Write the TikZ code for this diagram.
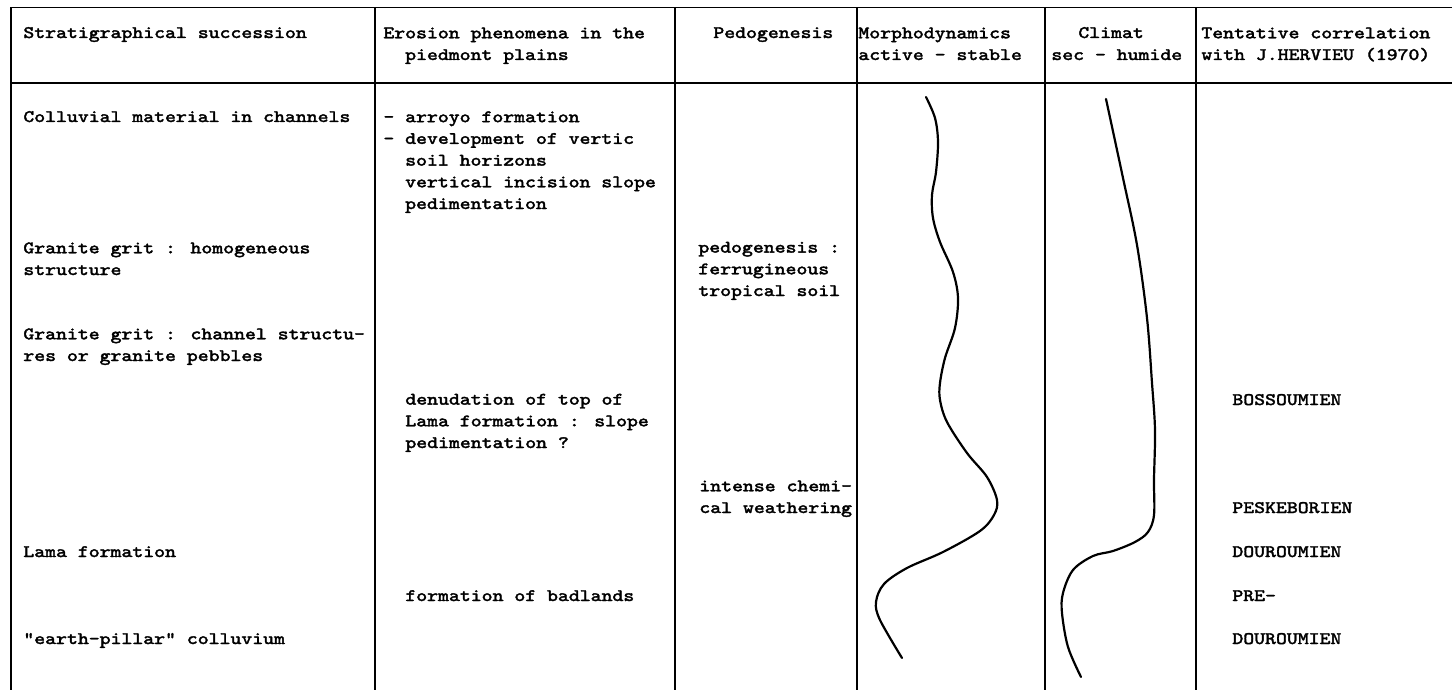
\documentclass[tikz,border=0pt]{standalone}
\usepackage{fontspec}
\newfontfamily\typewr[FakeStretch=1.185,FakeBold=2]{Latin Modern Mono}
\tikzset{
  txt/.style={anchor=base west, inner sep=0pt, align=left,
    font=\typewr\fontsize{8.76}{10.85}\selectfont},
  rule/.style={line width=0.75pt},
  trend/.style={line width=1.1pt, line cap=round}
}

\begin{document}
\begin{tikzpicture}[x=0.5pt, y=-0.5pt]
\useasboundingbox (0,0) rectangle (1452,690);
% table rules
\draw[rule] (11,7.5) -- (1452,7.5);
\draw[rule] (11,83) -- (1452,83);
\foreach \x in {11,375,675,857,1045,1196}
  \draw[rule] (\x,7.5) -- (\x,690);

% header (base = last line)
\node[txt] (hstrat) at (23,38) {Stratigraphical succession};
\node[txt] (heros) at (383,60) {Erosion phenomena in the\\\hphantom{- }piedmont plains};
\node[txt] (hpedo) at (713,38) {Pedogenesis};
\node[txt] (hmorph) at (858,60) {Morphodynamics\\active - stable};
\node[txt] (hclim) at (1078,38) {Climat};
\node[txt] (hsec) at (1051,60) {sec - humide};
\node[txt] (hcorr) at (1201,60) {Tentative correlation\\with J.HERVIEU (1970)};

% stratigraphical succession
\node[txt] (colluv) at (23,122) {Colluvial material in channels};
\node[txt] (grithom) at (23,275) {Granite grit : homogeneous\\structure};
\node[txt] (gritchan) at (23,361) {Granite grit : channel structu-\\res or granite pebbles};
\node[txt] (lama) at (23,557) {Lama formation};
\node[txt] (pillar) at (23,644) {"earth-pillar" colluvium};

% erosion phenomena
\node[txt] (arroyo) at (383,209) {- arroyo formation\\- development of vertic\\\hphantom{- }soil horizons\\\hphantom{- }vertical incision slope\\\hphantom{- }pedimentation};
\node[txt] (denud) at (405,448) {denudation of top of\\Lama formation : slope\\pedimentation ?};
\node[txt] (badl) at (405,601) {formation of badlands};

% pedogenesis
\node[txt] (ferrug) at (698,296) {pedogenesis :\\ferrugineous\\tropical soil};
\node[txt] (weath) at (699,513) {intense chemi-\\cal weathering};

% correlation
\node[txt] (boss) at (1232,405) {BOSSOUMIEN};
\node[txt] (pesk) at (1232,513) {PESKEBORIEN};
\node[txt] (dour) at (1232,557) {DOUROUMIEN};
\node[txt] (pre) at (1232,601) {PRE-};
\node[txt] (predour) at (1232,644) {DOUROUMIEN};

% morphodynamics curve
\draw[trend] plot[smooth, tension=0.55] coordinates {
  (926,97) (935,118) (938,142) (936,172) (932,195) (933,218) (940,242)
  (953,272) (958,298) (955,328) (945,358) (940,383) (940,400) (947,422)
  (967,453) (987,477) (997,500) (994,515) (980,531) (943,552) (907,568)
  (884,584) (876,602) (880,620) (902,658)};
% climate curve
\draw[trend] plot[smooth, tension=0.55] coordinates {
  (1106,99) (1123,178) (1137,245) (1147,318) (1152,383) (1155,430)
  (1154,480) (1154,515) (1148,532) (1135,542) (1113,551) (1093,556)
  (1073,570) (1063,593) (1062,613) (1068,647) (1081,677)};
\end{tikzpicture}
\end{document}
